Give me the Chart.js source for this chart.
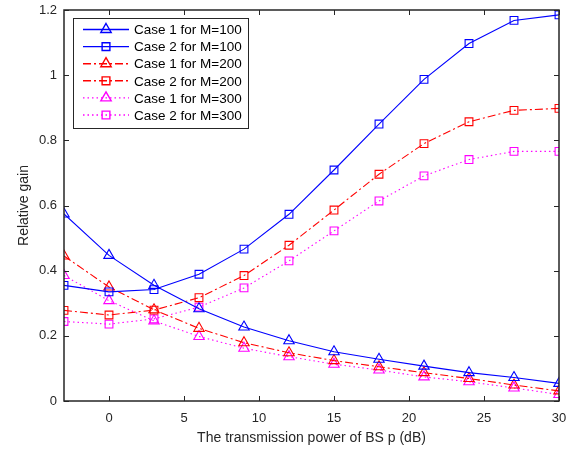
<!DOCTYPE html>
<html>
<head>
<meta charset="utf-8">
<script src="https://cdn.jsdelivr.net/npm/chart.js@4/dist/chart.umd.min.js"></script>
<style>
  html, body { margin: 0; padding: 0; background: #fff; }
  #wrap { width: 579px; height: 451px; }
</style>
</head>
<body>
<div id="wrap"><canvas id="gainChart" width="579" height="451"></canvas></div>
<script>
// data
var power = [-3, 0, 3, 6, 9, 12, 15, 18, 21, 24, 27, 30];
var case1M100 = [0.574, 0.447, 0.355, 0.283, 0.227, 0.185, 0.151, 0.128, 0.107, 0.087, 0.072, 0.054];
var case2M100 = [0.355, 0.335, 0.342, 0.389, 0.466, 0.573, 0.709, 0.850, 0.987, 1.097, 1.168, 1.185];
var case1M200 = [0.445, 0.350, 0.280, 0.223, 0.179, 0.148, 0.124, 0.105, 0.087, 0.069, 0.049, 0.031];
var case2M200 = [0.278, 0.264, 0.279, 0.317, 0.385, 0.478, 0.586, 0.696, 0.790, 0.857, 0.892, 0.898];
var case1M300 = [0.385, 0.308, 0.246, 0.198, 0.162, 0.136, 0.113, 0.095, 0.074, 0.059, 0.040, 0.020];
var case2M300 = [0.244, 0.236, 0.252, 0.288, 0.347, 0.430, 0.522, 0.614, 0.691, 0.741, 0.766, 0.766];
var xTicks = [0, 5, 10, 15, 20, 25, 30];
var yTicks = [0, 0.2, 0.4, 0.6, 0.8, 1, 1.2];
var seriesNames = ['Case 1 for M=100', 'Case 2 for M=100', 'Case 1 for M=200', 'Case 2 for M=200', 'Case 1 for M=300', 'Case 2 for M=300'];

var axisColor = '#262626';
var fontFamily = 'Liberation Sans, Arial, sans-serif';

function pts(vals) {
    return vals.map(function(v, i) { return { x: power[i], y: v }; });
}

function makeSet(name, vals, color, dash, shape) {
    return {
        label: name,
        data: pts(vals),
        borderColor: color,
        borderWidth: 1.1,
        borderDash: dash,
        backgroundColor: 'rgba(0,0,0,0)',
        pointStyle: shape,
        pointRadius: shape === 'triangle' ? 6 : 5.5,
        pointBorderWidth: 1.1,
        pointBorderColor: color,
        pointBackgroundColor: 'rgba(0,0,0,0)',
        tension: 0
    };
}

var dashDot = [8, 3, 2, 3];
var dotted = [1.5, 3];

// inward ticks + full box, like the original figure
var boxTicks = {
    id: 'boxTicks',
    afterDraw: function(chart) {
        var ctx = chart.ctx, a = chart.chartArea;
        var xs = chart.scales.x, ys = chart.scales.y;
        var len = 5;
        ctx.save();
        ctx.strokeStyle = axisColor;
        ctx.lineWidth = 1;
        ctx.beginPath();
        xTicks.forEach(function(t) {
            var px = Math.round(xs.getPixelForValue(t)) + 0.5;
            ctx.moveTo(px, a.bottom); ctx.lineTo(px, a.bottom - len);
            ctx.moveTo(px, a.top); ctx.lineTo(px, a.top + len);
        });
        yTicks.forEach(function(t) {
            var py = Math.round(ys.getPixelForValue(t)) + 0.5;
            ctx.moveTo(a.left, py); ctx.lineTo(a.left + len, py);
            ctx.moveTo(a.right, py); ctx.lineTo(a.right - len, py);
        });
        ctx.stroke();
        ctx.lineWidth = 1.5;
        ctx.strokeRect(a.left, a.top, a.right - a.left, a.bottom - a.top);
        ctx.restore();
    }
};

// legend box in the upper-left corner of the plot
var boxLegend = {
    id: 'boxLegend',
    afterDraw: function(chart) {
        var ctx = chart.ctx;
        var bx = 73, by = 18, bw = 175, bh = 110;
        ctx.save();
        ctx.fillStyle = '#fff';
        ctx.fillRect(bx, by, bw, bh);
        ctx.strokeStyle = axisColor;
        ctx.lineWidth = 1;
        ctx.strokeRect(bx + 0.5, by + 0.5, bw, bh);
        chart.data.datasets.forEach(function(ds, i) {
            var y = 29.5 + i * 17.1;
            ctx.strokeStyle = ds.borderColor;
            ctx.lineWidth = 1.4;
            ctx.setLineDash(ds.borderDash || []);
            ctx.beginPath();
            ctx.moveTo(83, y); ctx.lineTo(129, y);
            ctx.stroke();
            ctx.setLineDash([]);
            ctx.fillStyle = 'rgba(0,0,0,0)';
            Chart.helpers.drawPoint(ctx, {
                pointStyle: ds.pointStyle,
                radius: ds.pointRadius,
                borderWidth: 1.1,
                rotation: 0
            }, 106, y);
            ctx.fillStyle = '#000';
            ctx.font = '13.5px ' + fontFamily;
            ctx.textBaseline = 'middle';
            ctx.textAlign = 'left';
            ctx.fillText(ds.label, 134, y + 1);
        });
        ctx.restore();
    }
};

var ctx = document.getElementById('gainChart').getContext('2d');
var gainChart = new Chart(ctx, {
    type: 'line',
    data: {
        datasets: [
            makeSet(seriesNames[0], case1M100, '#0000ff', [], 'triangle'),
            makeSet(seriesNames[1], case2M100, '#0000ff', [], 'rect'),
            makeSet(seriesNames[2], case1M200, '#ff0000', dashDot, 'triangle'),
            makeSet(seriesNames[3], case2M200, '#ff0000', dashDot, 'rect'),
            makeSet(seriesNames[4], case1M300, '#ff00ff', dotted, 'triangle'),
            makeSet(seriesNames[5], case2M300, '#ff00ff', dotted, 'rect')
        ]
    },
    options: {
        responsive: false,
        animation: false,
        layout: { padding: { left: 12, right: 20, top: 10, bottom: 0 } },
        plugins: {
            legend: { display: false },
            tooltip: { enabled: false }
        },
        scales: {
            x: {
                type: 'linear',
                min: -3,
                max: 30,
                afterBuildTicks: function(scale) {
                    scale.ticks = xTicks.map(function(v) { return { value: v }; });
                },
                afterFit: function(scale) {
                    scale.height = 50;
                    scale.paddingLeft = 0;
                    scale.paddingRight = 0;
                },
                grid: { display: false, drawTicks: false },
                border: { display: false },
                ticks: {
                    padding: 10,
                    color: axisColor,
                    maxRotation: 0,
                    font: { size: 13, family: fontFamily },
                    callback: function(v) { return String(v); }
                },
                title: {
                    display: true,
                    text: 'The transmission power of BS p (dB)',
                    color: axisColor,
                    padding: { top: 2, bottom: 4 },
                    font: { size: 14, family: fontFamily }
                }
            },
            y: {
                min: 0,
                max: 1.2,
                afterBuildTicks: function(scale) {
                    scale.ticks = yTicks.map(function(v) { return { value: v }; });
                },
                afterFit: function(scale) {
                    scale.width = 52;
                    scale.paddingTop = 0;
                    scale.paddingBottom = 0;
                },
                grid: { display: false, drawTicks: false },
                border: { display: false },
                ticks: {
                    padding: 7,
                    color: axisColor,
                    font: { size: 13, family: fontFamily },
                    callback: function(v) { return String(Math.round(v * 10) / 10); }
                },
                title: {
                    display: true,
                    text: 'Relative gain',
                    color: axisColor,
                    padding: { top: 4, bottom: 4 },
                    font: { size: 14, family: fontFamily }
                }
            }
        }
    },
    plugins: [boxTicks, boxLegend]
});
</script>
</body>
</html>
